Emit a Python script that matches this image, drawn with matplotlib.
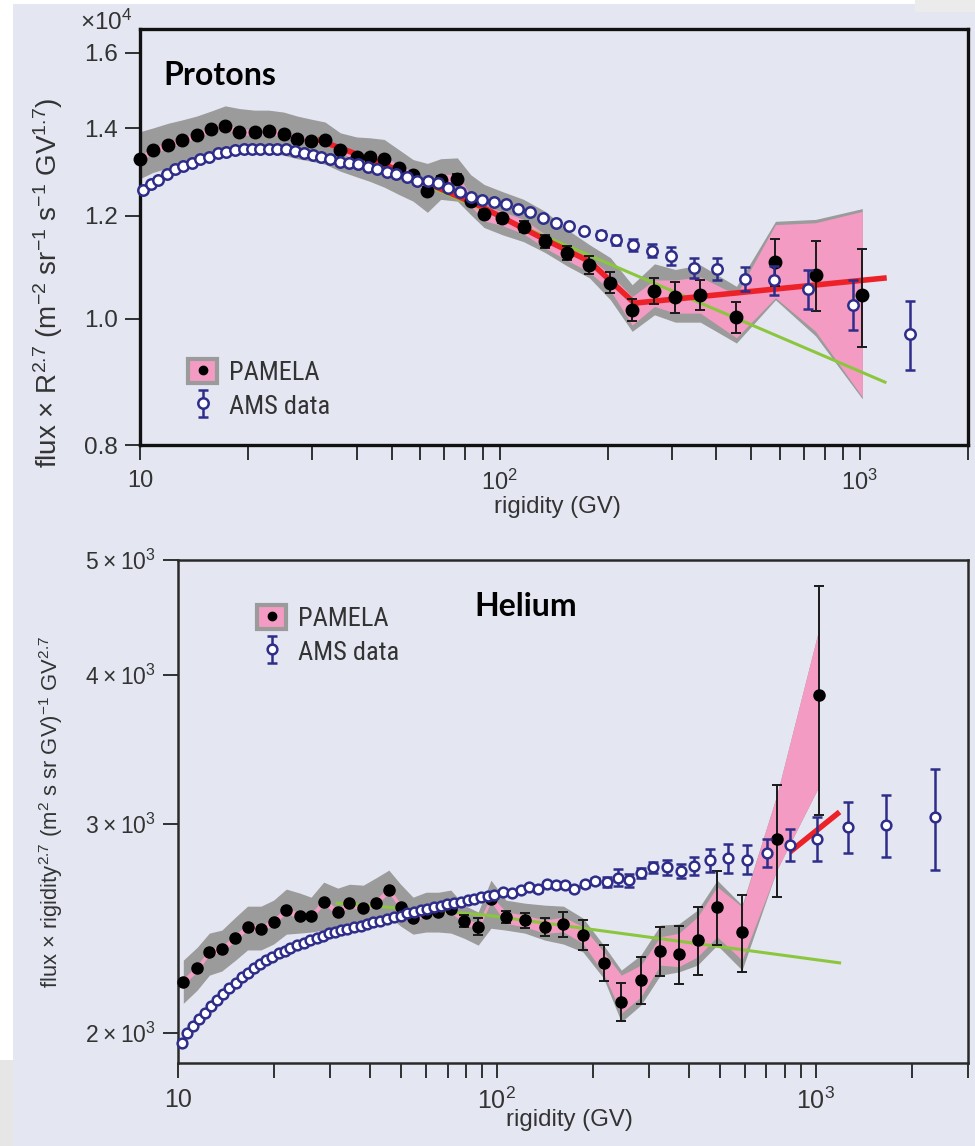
import matplotlib
matplotlib.use("Agg")
import matplotlib.pyplot as plt
from matplotlib import font_manager
from matplotlib.font_manager import FontProperties
from matplotlib.patches import Patch, Rectangle
from matplotlib.lines import Line2D
from matplotlib.legend_handler import HandlerTuple
from matplotlib.ticker import FixedLocator, FixedFormatter, LogLocator, NullLocator, NullFormatter


def pick_family(names):
    for n in names:
        try:
            font_manager.findfont(n, fallback_to_default=False)
            return n
        except ValueError:
            pass
    return 'DejaVu Sans'


SANS = pick_family(['Liberation Sans', 'DejaVu Sans'])
COND = pick_family(['Liberation Sans Narrow', 'Roboto Condensed', 'Open Sans Condensed', SANS])
plt.rcParams['font.family'] = [SANS, 'DejaVu Sans']
plt.rcParams['mathtext.fontset'] = 'custom'
plt.rcParams['mathtext.rm'] = SANS
plt.rcParams['mathtext.it'] = SANS + ':italic'
plt.rcParams['mathtext.bf'] = SANS + ':bold'

# ---------------- protons: flux x R^2.7, in units of 1e4 ----------------
p_pam_R = [10.0, 10.85, 11.99, 13.07, 14.38, 15.80, 17.25, 18.90, 20.81, 22.79,
           25.08, 27.33, 29.95, 32.67, 36.05, 40.0, 43.5, 47.7, 52.3, 57.4,
           62.9, 68.5, 76.2, 83.0, 90.4, 101.7, 116.4, 133.7, 153.7, 177.4,
           202.9, 233.2, 269.0, 307.3, 360.6, 454.4, 583.4, 754.3, 1017]
p_pam_flux = [1.327, 1.347, 1.359, 1.371, 1.383, 1.399, 1.406, 1.392, 1.390, 1.393,
              1.387, 1.375, 1.369, 1.371, 1.347, 1.331, 1.332, 1.327, 1.305, 1.290,
              1.253, 1.279, 1.281, 1.232, 1.204, 1.194, 1.177, 1.147, 1.123, 1.100,
              1.066, 1.016, 1.051, 1.039, 1.043, 1.003, 1.106, 1.080, 1.042]
p_pam_err = [0] * 20 + [0.009, 0.009, 0.010, 0.009, 0.0085, 0.009, 0.012, 0.0136, 0.0145, 0.017,
                        0.0195, 0.020, 0.0245, 0.028, 0.028, 0.027, 0.046, 0.067, 0.090]
# total uncertainty (grey) and inner band (pink)
p_gray_hi = [1.392, 1.401, 1.413, 1.421, 1.431, 1.444, 1.457, 1.450, 1.446, 1.446,
             1.441, 1.431, 1.423, 1.416, 1.389, 1.379, 1.377, 1.373, 1.349, 1.325,
             1.316, 1.327, 1.329, 1.290, 1.268, 1.252, 1.235, 1.209, 1.171, 1.140,
             1.114, 1.062, 1.102, 1.091, 1.100, 1.059, 1.188, 1.192, 1.215]
p_gray_lo = [1.281, 1.295, 1.306, 1.315, 1.327, 1.333, 1.337, 1.337, 1.341, 1.341,
             1.335, 1.327, 1.321, 1.314, 1.298, 1.285, 1.275, 1.262, 1.246, 1.231,
             1.207, 1.235, 1.231, 1.202, 1.175, 1.160, 1.146, 1.124, 1.098, 1.075,
             1.034, 0.978, 1.007, 0.994, 0.994, 0.958, 1.034, 0.970, 0.868]
p_pink_hi = [1.334, 1.354, 1.366, 1.378, 1.390, 1.406, 1.413, 1.399, 1.397, 1.400,
             1.394, 1.382, 1.376, 1.378, 1.354, 1.338, 1.339, 1.334, 1.312, 1.297,
             1.264, 1.290, 1.292, 1.243, 1.219, 1.209, 1.192, 1.161, 1.137, 1.114,
             1.081, 1.040, 1.071, 1.071, 1.077, 1.043, 1.181, 1.185, 1.209]
p_pink_lo = [1.320, 1.340, 1.352, 1.364, 1.376, 1.392, 1.399, 1.385, 1.383, 1.386,
             1.380, 1.368, 1.362, 1.364, 1.340, 1.324, 1.325, 1.320, 1.298, 1.283,
             1.242, 1.268, 1.270, 1.221, 1.189, 1.179, 1.162, 1.133, 1.109, 1.086,
             1.051, 0.989, 1.022, 1.010, 1.010, 0.967, 1.038, 0.978, 0.871]
p_green_R = [31.06, 1176]
p_green_flux = [1.375, 0.894]
p_red_R = [31.06, 47.6, 88.5, 133.7, 177.3, 236.6, 1189]
p_red_flux = [1.373, 1.314, 1.220, 1.150, 1.107, 1.028, 1.075]

p_ams_R = [10.17, 10.71, 11.24, 11.87, 12.52, 13.20, 13.93, 14.69, 15.57, 16.46,
           17.33, 18.31, 19.40, 20.47, 21.60, 22.78, 24.03, 25.46, 26.91, 28.50,
           30.20, 31.93, 33.82, 35.91, 38.04, 40.40, 43.08, 45.64, 48.44, 51.56,
           55.34, 58.99, 63.14, 67.49, 71.95, 77.5, 83.04, 89.12, 96.05, 103.9,
           112.0, 121.5, 131.5, 143.2, 156.0, 171.8, 191.1, 210.4, 234.2, 264.6,
           299.5, 345.5, 401.5, 479.3, 577.1, 719.5, 956.1, 1380]
p_ams_flux = [1.255, 1.268, 1.279, 1.291, 1.302, 1.310, 1.318, 1.326, 1.332, 1.340,
              1.344, 1.347, 1.349, 1.349, 1.351, 1.351, 1.350, 1.349, 1.345, 1.341,
              1.335, 1.330, 1.326, 1.320, 1.318, 1.314, 1.308, 1.304, 1.296, 1.291,
              1.285, 1.276, 1.276, 1.272, 1.259, 1.252, 1.240, 1.233, 1.230, 1.225,
              1.214, 1.207, 1.196, 1.185, 1.178, 1.167, 1.159, 1.150, 1.139, 1.128,
              1.118, 1.094, 1.092, 1.073, 1.071, 1.054, 1.025, 0.973]
p_ams_err = [0] * 44 + [0.003, 0.005, 0.008, 0.010, 0.0115, 0.0126,
                        0.0174, 0.0188, 0.0209, 0.0222, 0.0275, 0.0364, 0.0455, 0.059]

# ---------------- helium: flux x rigidity^2.7 ----------------
he_pam_R = [10.39, 11.50, 12.54, 13.72, 15.14, 16.52, 18.20, 19.94, 21.86, 24.07,
            26.14, 28.63, 31.69, 34.49, 38.08, 41.64, 45.84, 49.9, 54.57, 59.95,
            65.56, 71.72, 78.87, 87.35, 95.81, 106.7, 122.2, 141.5, 161.6, 186.1,
            216.0, 245.5, 282.7, 325.5, 371.6, 425.8, 490.3, 587.0, 754.3, 1020]
he_pam_flux = [2208, 2266, 2340, 2351, 2404, 2456, 2447, 2480, 2537, 2507,
               2507, 2578, 2528, 2570, 2545, 2573, 2637, 2553, 2499, 2521,
               2528, 2540, 2485, 2456, 2594, 2503, 2488, 2456, 2469, 2417,
               2290, 2124, 2215, 2344, 2329, 2396, 2553, 2432, 2914, 3852]
he_pam_err_lo = [0] * 22 + [28, 40, 15, 27, 36, 44, 60, 71,
                            79, 80, 99, 112, 130, 158, 184, 181, 311, 800]
he_pam_err_hi = [0] * 22 + [28, 40, 15, 27, 36, 44, 60, 71,
                            79, 80, 99, 112, 130, 158, 184, 181, 317, 899]
he_gray_hi = [2302, 2361, 2426, 2440, 2502, 2556, 2556, 2586, 2642, 2622,
              2601, 2678, 2647, 2667, 2662, 2699, 2741, 2667, 2601, 2626,
              2626, 2637, 2561, 2527, 2688, 2586, 2571, 2561, 2556, 2498,
              2370, 2258, 2325, 2464, 2469, 2537, 2688, 2561, 3169, 4362]
he_gray_lo = [2117, 2173, 2236, 2254, 2302, 2348, 2348, 2375, 2421, 2426,
              2431, 2440, 2440, 2454, 2469, 2482, 2507, 2459, 2421, 2431,
              2431, 2426, 2402, 2370, 2449, 2440, 2426, 2393, 2375, 2339,
              2223, 2042, 2110, 2236, 2250, 2280, 2370, 2258, 2741, 3220]
he_pink_hi = [2221, 2280, 2354, 2365, 2418, 2471, 2462, 2495, 2552, 2522,
              2522, 2593, 2543, 2585, 2560, 2588, 2653, 2568, 2514, 2536,
              2543, 2555, 2500, 2471, 2610, 2528, 2512, 2488, 2503, 2456,
              2340, 2236, 2280, 2409, 2425, 2503, 2654, 2553, 3169, 4362]
he_pink_lo = [2195, 2252, 2326, 2337, 2390, 2441, 2432, 2465, 2522, 2492,
              2492, 2563, 2513, 2555, 2530, 2558, 2621, 2538, 2484, 2506,
              2513, 2525, 2470, 2441, 2578, 2472, 2456, 2425, 2432, 2378,
              2244, 2077, 2144, 2280, 2273, 2317, 2409, 2302, 2741, 3220]
he_green_R = [31.55, 92.4, 1187]
he_green_flux = [2571, 2512, 2290]
he_red_R = [829, 1187]
he_red_flux = [2839, 3068]

he_ams_R = [10.27, 10.70, 11.17, 11.67, 12.16, 12.70, 13.23, 13.88, 14.50, 15.19,
            15.86, 16.56, 17.25, 18.11, 18.91, 19.71, 20.67, 21.60, 22.50, 23.62,
            24.78, 26.01, 27.30, 28.51, 29.69, 31.01, 32.49, 33.93, 35.59, 37.35,
            39.21, 40.95, 42.95, 45.32, 47.53, 49.89, 52.38, 54.95, 57.68, 60.55,
            63.50, 66.67, 69.98, 73.40, 77.05, 80.88, 84.83, 89.05, 93.50, 98.06,
            104.5, 111.7, 118.8, 126.1, 134.4, 143.3, 152.8, 162.9, 174.5, 188.5,
            203.6, 221.4, 239.2, 260.3, 282.7, 309.3, 342.4, 376.5, 415.1, 465.9,
            529.7, 609.9, 702.0, 829.0, 1005, 1265, 1657, 2361]
he_ams_flux = [1962, 1998, 2027, 2053, 2079, 2107, 2131, 2156, 2180, 2203,
               2227, 2246, 2266, 2283, 2302, 2317, 2333, 2344, 2355, 2370,
               2381, 2393, 2404, 2414, 2425, 2432, 2440, 2445, 2453, 2461,
               2469, 2477, 2485, 2493, 2501, 2509, 2521, 2528, 2537, 2541,
               2550, 2556, 2565, 2573, 2578, 2586, 2591, 2600, 2606, 2614,
               2628, 2620, 2637, 2651, 2640, 2667, 2662, 2662, 2645, 2666,
               2684, 2679, 2702, 2688, 2727, 2755, 2755, 2737, 2763, 2794,
               2804, 2798, 2834, 2877, 2914, 2980, 2991, 3039]
he_ams_err = [0] * 50 + [8, 10, 10, 12, 12, 14, 14, 14, 14, 14,
                         17, 27, 43, 35, 27, 27, 39, 39, 49, 64,
                         78, 77, 76, 89, 125, 145, 180, 295]

BG = '#e4e7f2'
PINK = '#f39bc2'
GRAY = '#9b9b9b'
NAVY = '#2e2d8a'
RED = '#ec2228'
GREEN = '#8cc63f'
TXT = '#333333'


def draw_panel(ax, pam, bands, fits, ams, pam_ms, ams_ms):
    pR, pF, pErr = pam
    gHi, gLo, kHi, kLo = bands
    (grR, grF), (rdR, rdF) = fits
    aR, aF, aErr = ams
    ax.fill_between(pR, gLo, gHi, color=GRAY, lw=0, zorder=1)
    ax.fill_between(pR, kLo, kHi, color=PINK, lw=0, zorder=2)
    ax.plot(grR, grF, color=GREEN, lw=2.2, zorder=3)
    ax.plot(rdR, rdF, color=RED, lw=4, zorder=4, solid_capstyle='butt')
    ax.errorbar(pR, pF, yerr=pErr, fmt='o', color='black', ms=pam_ms,
                ecolor='#1a1a1a', elinewidth=1.4, capsize=3.5, capthick=1.4,
                zorder=5, clip_on=False)
    cont = ax.errorbar(aR, aF, yerr=aErr, fmt='o', mfc='white', mec=NAVY,
                       mew=1.8, ms=ams_ms, ecolor=NAVY, elinewidth=1.8,
                       capsize=3.5, capthick=1.6, zorder=6, clip_on=False)
    return cont


def style_axes(ax, spine_w, spine_c, xfs, yfs):
    ax.set_facecolor(BG)
    ax.set_xscale('log')
    ax.set_yscale('log')
    for s in ax.spines.values():
        s.set_linewidth(spine_w)
        s.set_color(spine_c)
    ax.xaxis.set_major_locator(FixedLocator([10, 100, 1000]))
    ax.xaxis.set_major_formatter(FixedFormatter(['10', '10$^2$', '10$^3$']))
    ax.xaxis.set_minor_locator(LogLocator(base=10, subs=[2, 3, 4, 5, 6, 7, 8, 9]))
    ax.xaxis.set_minor_formatter(NullFormatter())
    ax.yaxis.set_minor_locator(NullLocator())
    ax.tick_params(which='both', direction='out', length=11, width=1.3,
                   color='#222222', labelcolor=TXT)
    ax.tick_params(axis='x', which='both', pad=7, labelsize=xfs)
    ax.tick_params(axis='y', which='both', pad=5, labelsize=yfs)


def add_legend(ax, handles, **kw):
    ax.legend(handles, ['PAMELA', 'AMS data'],
              handler_map={tuple: HandlerTuple(ndivide=1)},
              frameon=False, prop=FontProperties(family=COND, size=19),
              handlelength=1.1, handleheight=1.0,
              handletextpad=0.45, labelspacing=0.3, borderaxespad=0, borderpad=0,
              labelcolor=TXT, **kw)


fig = plt.figure(figsize=(9.75, 11.46), dpi=100, facecolor=BG)

# page edge strips
fig.add_artist(Rectangle((0, 1 - 1060 / 1146), 13 / 975, 1060 / 1146,
                         transform=fig.transFigure, color='white', lw=0, zorder=0))
fig.add_artist(Rectangle((0, 0), 13 / 975, 86 / 1146,
                         transform=fig.transFigure, color='#e6e6e6', lw=0, zorder=0))
fig.add_artist(Rectangle((0, 1 - 4 / 1146), 1, 4 / 1146,
                         transform=fig.transFigure, color='white', lw=0, zorder=0))
fig.add_artist(Rectangle((915 / 975, 1 - 12 / 1146), 60 / 975, 12 / 1146,
                         transform=fig.transFigure, color='#ebebeb', lw=0, zorder=0))

pam_handle = (Patch(facecolor=PINK, edgecolor=GRAY, linewidth=3),
              Line2D([], [], ls='none', marker='o', color='black', markersize=6))

# ---------------- protons ----------------
ax1 = fig.add_axes([140 / 975, 1 - 445 / 1146, 828 / 975, 416 / 1146])
style_axes(ax1, 2.4, '#111111', 17, 17.5)
ams1 = draw_panel(ax1,
                  (p_pam_R, p_pam_flux, p_pam_err),
                  (p_gray_hi, p_gray_lo, p_pink_hi, p_pink_lo),
                  ((p_green_R, p_green_flux), (p_red_R, p_red_flux)),
                  (p_ams_R, p_ams_flux, p_ams_err), 9, 7.5)
ax1.set_xlim(10, 2000)
ax1.set_ylim(0.8, 1.669)
ax1.yaxis.set_major_locator(FixedLocator([0.8, 1.0, 1.2, 1.4, 1.6]))
ax1.yaxis.set_major_formatter(FixedFormatter(['0.8', '1.0', '1.2', '1.4', '1.6']))
ax1.set_xlabel('rigidity (GV)', fontsize=17.3, color=TXT)
ax1.xaxis.set_label_coords(0.504, -0.122)
ax1.set_ylabel('flux × R$^{2.7}$ (m$^{-2}$ sr$^{-1}$ s$^{-1}$ GV$^{1.7}$)',
               fontsize=20, color=TXT)
ax1.yaxis.set_label_coords(-0.091, 0.39)
fig.text(106 / 975, 1 - 22 / 1146, '×10$^4$', fontsize=17.5, color=TXT,
         ha='center', va='center')
ax1.text(0.028, 0.889, 'Protons', transform=ax1.transAxes, fontsize=23,
         fontweight='bold', family=['Lato', 'DejaVu Sans'], va='center', color='black')
add_legend(ax1, [pam_handle, ams1], loc='lower left', bbox_to_anchor=(0.058, 0.063))

# ---------------- helium ----------------
ax2 = fig.add_axes([178 / 975, 1 - 1063 / 1146, 790 / 975, 503 / 1146])
style_axes(ax2, 1.8, '#2a2a2a', 18, 16.5)
ams2 = draw_panel(ax2,
                  (he_pam_R, he_pam_flux, [he_pam_err_lo, he_pam_err_hi]),
                  (he_gray_hi, he_gray_lo, he_pink_hi, he_pink_lo),
                  ((he_green_R, he_green_flux), (he_red_R, he_red_flux)),
                  (he_ams_R, he_ams_flux, he_ams_err), 8, 7)
ax2.set_xlim(10, 3000)
ax2.set_ylim(1886, 5000)
ax2.yaxis.set_major_locator(FixedLocator([2000, 3000, 4000, 5000]))
ax2.yaxis.set_major_formatter(FixedFormatter(
    ['2\u2009×\u200910$^3$', '3\u2009×\u200910$^3$', '4\u2009×\u200910$^3$', '5\u2009×\u200910$^3$']))
ax2.set_xlabel('rigidity (GV)', fontsize=17.3, color=TXT)
ax2.xaxis.set_label_coords(0.496, -0.092)
ax2.set_ylabel('flux × rigidity$^{2.7}$ (m$^2$ s sr GV)$^{-1}$ GV$^{2.7}$',
               fontsize=15.8, color=TXT)
ax2.yaxis.set_label_coords(-0.143, 0.5)
ax2.text(0.375, 0.907, 'Helium', transform=ax2.transAxes, fontsize=23,
         fontweight='bold', family=['Lato', 'DejaVu Sans'], va='center', color='black')
add_legend(ax2, [pam_handle, ams2], loc='upper left', bbox_to_anchor=(0.1, 0.91))

fig.savefig('out.png', dpi=100, facecolor=BG)
